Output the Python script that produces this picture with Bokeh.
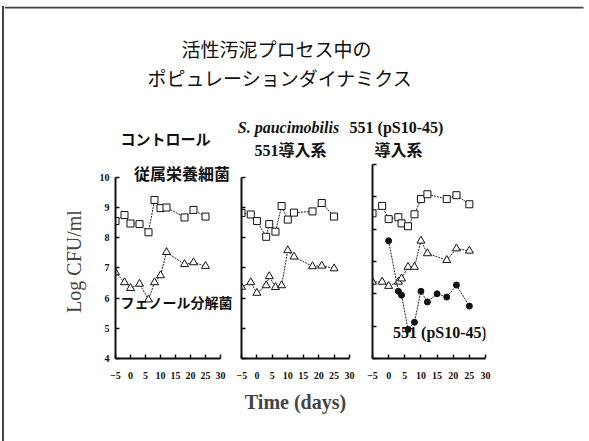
from bokeh.plotting import figure
from bokeh.models import Range1d, FixedTicker, Label
from bokeh.layouts import row, column
from bokeh.core.properties import value
from bokeh.embed import file_html
from bokeh.resources import INLINE

# ---------------- data ----------------
title_lines = ["活性汚泥プロセス中の", "ポピュレーションダイナミクス"]
panel_headers = [["コントロール"], ["S. paucimobilis", "551導入系"], ["551 (pS10-45)", "導入系"]]
y_label = "Log CFU/ml"
x_label = "Time (days)"
hetero_label = "従属栄養細菌"
phenol_label = "フェノール分解菌"
strain_label = "551 (pS10-45)"

x_ticks = [-5, 0, 5, 10, 15, 20, 25, 30]
y_ticks = [4, 5, 6, 7, 8, 9, 10]

# Control
c_days = [-5, -2, 0, 3, 6, 8, 10, 12, 18, 21, 25]
c_hetero = [8.55, 8.75, 8.47, 8.45, 8.18, 9.25, 8.98, 9.0, 8.67, 8.92, 8.7]
c_phenol = [6.85, 6.52, 6.33, 6.47, 5.95, 6.52, 6.75, 7.52, 7.12, 7.18, 7.06]

# S. paucimobilis 551
s_days = [-5, -2, 0, 3, 4, 6, 8, 10, 12, 18, 21, 25]
s_hetero = [8.82, 8.77, 8.55, 8.03, 8.45, 8.2, 9.05, 8.6, 8.83, 8.87, 9.15, 8.7]
s_phenol = [6.37, 6.52, 6.17, 6.42, 6.72, 6.36, 6.42, 7.58, 7.37, 7.05, 7.07, 6.98]

# 551 (pS10-45)
p_days = [-5, -2, 0, 3, 4, 6, 8, 10, 12, 18, 21, 25]
p_hetero = [8.49, 8.72, 8.31, 8.37, 8.18, 8.09, 8.46, 8.93, 9.08, 8.93, 9.05, 8.77]
p_phenol = [6.37, 6.37, 6.24, 6.37, 6.47, 6.83, 6.83, 7.64, 7.25, 7.04, 7.4, 7.33]
p551_days = [0, 3, 4, 6, 8, 10, 12, 15, 18, 21, 25]
p551_vals = [7.64, 6.08, 5.96, 4.9, 5.12, 6.08, 5.75, 6.0, 5.9, 6.27, 5.62]

SERIF = "Liberation Serif, Noto Sans CJK JP"
GOTH = "Noto Sans CJK JP"
INK = "#111"

# ---------------- header (title + column headers) ----------------
hdr = figure(width=585, height=154, x_range=Range1d(4, 589), y_range=Range1d(160, 6),
             output_backend="svg", toolbar_location=None, min_border=0,
             x_axis_location=None, y_axis_location=None)
hdr.grid.visible = False
hdr.outline_line_color = None
# top frame line of the slide
hdr.line(x=[4, 583], y=[7, 7], line_color="#444", line_width=2)
hdr.text(x=[276, 280], y=[48, 77], text=title_lines, text_font=value(GOTH),
         text_font_size="19px", text_align="center", text_baseline="middle", text_color=INK)
hdr.text(x=[165], y=[138], text=panel_headers[0], text_font=value(GOTH), text_font_style="bold",
         text_font_size="15px", text_align="center", text_baseline="middle", text_color=INK)
hdr.text(x=[288], y=[127], text=[panel_headers[1][0]], text_font=value(SERIF),
         text_font_style="bold italic", text_font_size="16px", text_align="center",
         text_baseline="middle", text_color=INK)
hdr.text(x=[290, 396, 398], y=[150, 127, 150],
         text=[panel_headers[1][1], panel_headers[2][0], panel_headers[2][1]],
         text_font=value(SERIF), text_font_style="bold", text_font_size="16px",
         text_align="center", text_baseline="middle", text_color=INK)

PANEL_H = 281


def panel(width, bl, br, bt, bb, xmax, ymax, show_labels):
    p = figure(width=width, height=PANEL_H, x_range=Range1d(-5, xmax), y_range=Range1d(4, ymax),
               output_backend="svg", toolbar_location=None,
               min_border_left=bl, min_border_right=br, min_border_top=bt, min_border_bottom=bb)
    p.grid.visible = False
    p.outline_line_color = None
    for ax in (p.xaxis[0], p.yaxis[0]):
        ax.axis_line_width = 2
        ax.axis_line_color = INK
        ax.major_tick_in = 4
        ax.major_tick_out = 0
        ax.major_tick_line_width = 1.5
        ax.major_tick_line_color = INK
        ax.minor_tick_line_color = None
        ax.major_label_text_font = SERIF
        ax.major_label_text_font_style = "bold"
        ax.major_label_text_font_size = "10px"
        ax.major_label_text_color = INK
    p.xaxis.ticker = FixedTicker(ticks=x_ticks)
    p.yaxis.ticker = FixedTicker(ticks=y_ticks)
    p.xaxis.bounds = (-5, 30)
    p.yaxis.bounds = (4, 10)
    p.xaxis.major_label_standoff = 13
    if show_labels:
        p.yaxis.major_label_standoff = 6
    else:
        p.yaxis.major_label_overrides = {t: "" for t in y_ticks}
        p.yaxis.major_label_standoff = 0
    return p


def series(p, xs, ys, kind):
    p.line(xs, ys, line_color="#222", line_width=1, line_dash="2 1")
    if kind == "sq":
        p.scatter(xs, ys, marker="square", size=7, fill_color="white", line_color=INK, line_width=1)
    elif kind == "tri":
        p.scatter(xs, ys, marker="triangle", size=8, fill_color="white", line_color=INK, line_width=1)
    else:
        p.scatter(xs, ys, marker="circle", size=6, fill_color=INK, line_color=INK)


# panel 1: frame x 115..236 (axis to 220), y top 162 (axis top 175) .. 359
p1 = panel(232, 111, 0, 2, PANEL_H - 2 - 197, 35.33, 10.424, True)
p1.yaxis.axis_label = y_label
p1.yaxis.axis_label_text_font = SERIF
p1.yaxis.axis_label_text_font_style = "normal"
p1.yaxis.axis_label_text_font_size = "20px"
p1.yaxis.axis_label_standoff = 12
series(p1, c_days, c_hetero, "sq")
series(p1, c_days, c_phenol, "tri")
p1.add_layout(Label(x=17.2, y=10.14, text=hetero_label, text_font=GOTH, text_font_style="bold",
                    text_font_size="16px", text_align="center", text_baseline="middle", text_color=INK))
p1.add_layout(Label(x=-3.3, y=5.86, text=phenol_label, text_font=GOTH, text_font_style="bold",
                    text_font_size="14px", text_align="left", text_baseline="middle", text_color=INK))

# panel 2: frame x 241..349
p2 = panel(124, 5, 11, 2, PANEL_H - 2 - 197, 30, 10.424, False)
p2.xaxis.axis_label = x_label
p2.xaxis.axis_label_text_font = SERIF
p2.xaxis.axis_label_text_font_style = "bold"
p2.xaxis.axis_label_text_font_size = "20px"
p2.xaxis.axis_label_standoff = 9
series(p2, s_days, s_hetero, "sq")
series(p2, s_days, s_phenol, "tri")

# panel 3: frame x 372..485, y 164..358
p3 = panel(229, 12, 104, 4, PANEL_H - 4 - 194, 30, 10, False)
series(p3, p_days, p_hetero, "sq")
series(p3, p_days, p_phenol, "tri")
series(p3, p551_days, p551_vals, "dot")
p3.add_layout(Label(x=15.9, y=4.81, text=strain_label, text_font=SERIF, text_font_style="bold",
                    text_font_size="16px", text_align="center", text_baseline="middle", text_color=INK))

layout = column(hdr, row(p1, p2, p3),
                styles={"margin-left": "2px", "margin-top": "6px",
                        "border-left": "2px solid #444"})

open("out.html", "w").write(file_html(layout, INLINE))
